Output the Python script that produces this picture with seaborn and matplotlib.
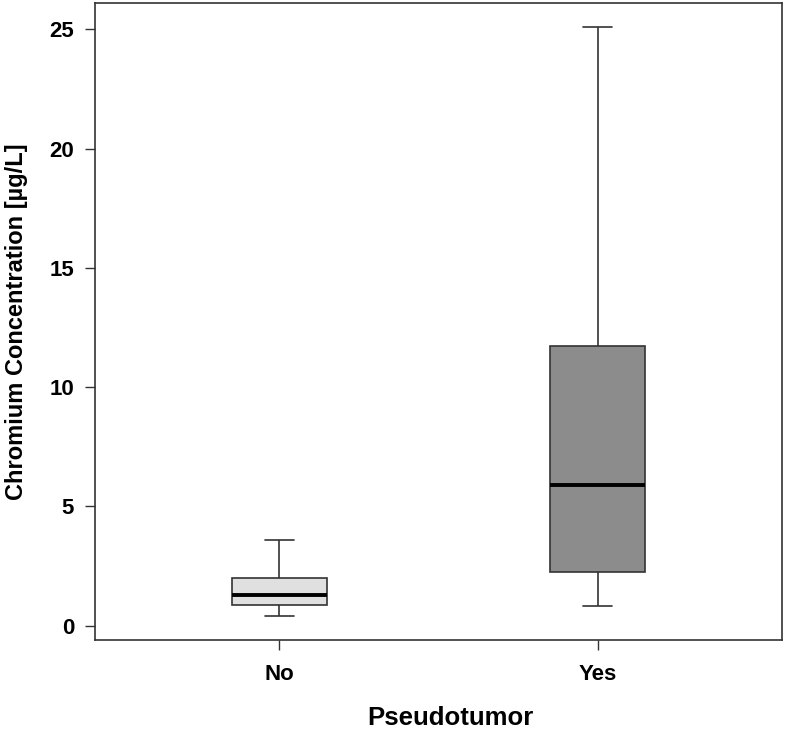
import numpy as np
import pandas as pd
import matplotlib
matplotlib.use("Agg")
import matplotlib.pyplot as plt
import seaborn as sns

# Five-number summaries (min, Q1, median, Q3, max)
groups = ["No", "Yes"]
no_values = [0.42, 0.85, 1.3, 1.98, 3.6]
yes_values = [0.82, 2.27, 5.9, 11.72, 25.1]
box_colors = ["#E0E0E0", "#8C8C8C"]

df = pd.DataFrame({
    "Pseudotumor": [groups[0]] * len(no_values) + [groups[1]] * len(yes_values),
    "Chromium": no_values + yes_values,
})

sns.set_style("ticks")
plt.rcParams["font.family"] = ["Liberation Sans", "DejaVu Sans"]

fig = plt.figure(figsize=(7.86, 7.32), dpi=100)
ax = fig.add_axes([0.1209, 0.1257, 0.874, 0.870])

line_color = "#333333"
sns.boxplot(
    data=df, x="Pseudotumor", y="Chromium", hue="Pseudotumor",
    order=groups, hue_order=groups, palette=box_colors, legend=False,
    whis=np.inf, width=0.3, showfliers=False, ax=ax,
    linecolor=line_color, linewidth=1.2,
    medianprops=dict(color="black", linewidth=2.8),
    whiskerprops=dict(color=line_color, linewidth=1.2),
    capprops=dict(color=line_color, linewidth=1.2),
    boxprops=dict(edgecolor=line_color, linewidth=1.2),
    capwidths=0.09,
)

ax.set_xlim(-0.58, 1.58)
ax.set_ylim(-0.6, 26.1)
ax.set_yticks([0, 5, 10, 15, 20, 25])
ax.set_yticklabels(["0", "5", "10", "15", "20", "25"])

for side in ["top", "right", "left", "bottom"]:
    ax.spines[side].set_visible(True)
    ax.spines[side].set_color(line_color)
    ax.spines[side].set_linewidth(1.2)

ax.tick_params(axis="both", length=7, width=1.0, color=line_color,
               labelsize=16, labelcolor="black", pad=8)
ax.tick_params(axis="x", pad=10)
for lab in ax.get_xticklabels() + ax.get_yticklabels():
    lab.set_fontweight("bold")

ax.set_xlabel("Pseudotumor", fontsize=18.5, fontweight="bold", color="black")
ax.xaxis.set_label_coords(0.517, -0.104)
ax.set_ylabel("Chromium Concentration [µg/L]", fontsize=17, fontweight="bold", color="black")
ax.yaxis.set_label_coords(-0.097, 0.5)

fig.savefig("out.png", dpi=100)
